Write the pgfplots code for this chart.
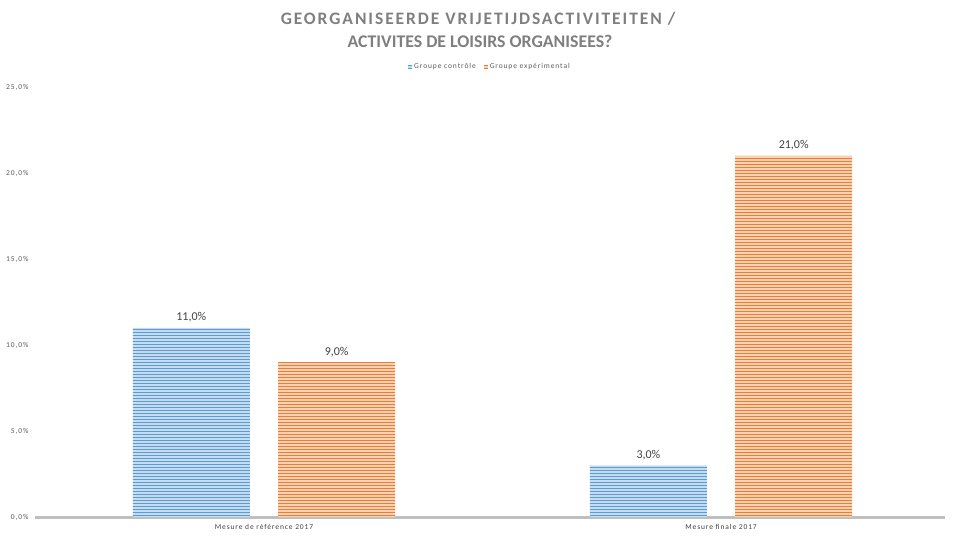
\documentclass[border=0pt]{standalone}
\usepackage{pgfplots}
\pgfplotsset{compat=1.18}
\usetikzlibrary{patterns}
\usepackage{fontspec}
\setmainfont{Carlito}
\definecolor{cblue}{HTML}{5B9BD5}
\definecolor{corange}{HTML}{ED7D31}
\definecolor{tgray}{HTML}{7F7F7F}
\definecolor{lgray}{HTML}{595959}
\definecolor{dgray}{HTML}{404040}
\definecolor{agray}{HTML}{BFBFBF}
\begin{document}
\begin{tikzpicture}
\useasboundingbox (0pt,0pt) rectangle (960pt,-540pt);
\node[tgray, font=\fontsize{17.5}{19}\selectfont\bfseries\addfontfeatures{LetterSpace=11}] at (478pt,-19pt) {GEORGANISEERDE VRIJETIJDSACTIVITEITEN /};
\node[tgray, font=\fontsize{17.8}{19}\selectfont\bfseries] at (480pt,-41pt) {ACTIVITES DE LOISIRS ORGANISEES?};
\begin{axis}[at={(35pt,-517pt)}, anchor=south west, scale only axis,
  width=910pt, height=430pt,
  xmin=-0.501, xmax=1.49, ymin=0, ymax=25,
  axis x line=bottom, axis y line=left,
  x axis line style={draw=agray, line width=3pt, -},
  y axis line style={draw=none},
  major tick length=0pt,
  ytick={0,5,10,15,20,25},
  yticklabel={\pgfmathprintnumber[fixed,fixed zerofill,precision=1,use comma]{\tick}\%},
  yticklabel style={font=\fontsize{7.5}{8}\selectfont\addfontfeatures{LetterSpace=12}, text=lgray, xshift=-3pt},
  /pgf/number format/assume math mode=true,
  xtick={0,1}, xticklabels={Mesure de référence 2017, Mesure finale 2017},
  xticklabel style={font=\fontsize{7.5}{8}\selectfont\addfontfeatures{LetterSpace=12}, text=dgray, yshift=-4pt},
  ybar, bar width=0.256,
  nodes near coords={\pgfmathprintnumber[fixed,fixed zerofill,precision=1,use comma]{\pgfplotspointmeta}\%},
  nodes near coords style={font=\fontsize{12}{14}\selectfont, text=dgray, yshift=2pt},
  legend style={at={(0.5,1.0465)}, anchor=center, draw=none, fill=none,
    font=\fontsize{7.5}{8}\selectfont\addfontfeatures{LetterSpace=12}, text=lgray, legend columns=2,
    /tikz/every even column/.append style={column sep=6pt}},
  legend image code/.code={\fill[#1] (0pt,-1.5pt) rectangle (4pt,1.5pt);},
  clip=false,
]
\addplot[bar shift=-0.159, draw=none, fill=cblue!35!white, postaction={pattern=horizontal lines, pattern color=cblue}] coordinates {(0,11) (1,3)};
\addplot[bar shift=0.159, draw=none, fill=corange!35!white, postaction={pattern=horizontal lines, pattern color=corange}] coordinates {(0,9) (1,21)};
\legend{Groupe contrôle, Groupe expérimental}
\end{axis}
\end{tikzpicture}
\end{document}
